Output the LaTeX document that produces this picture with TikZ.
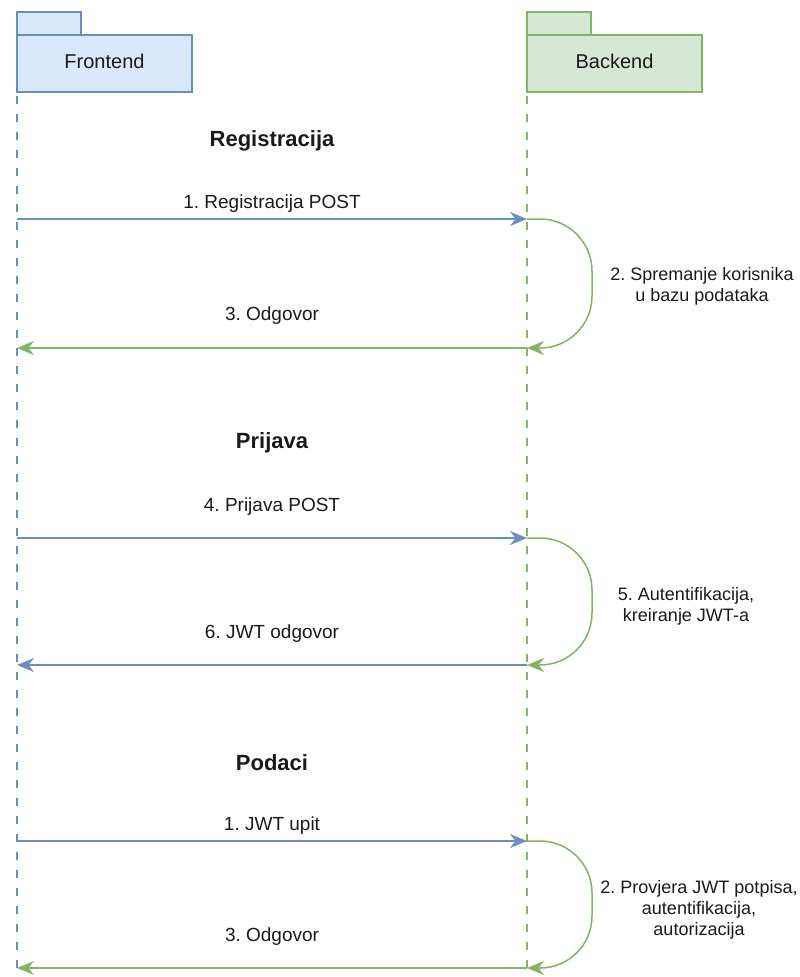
\documentclass[tikz,border=0pt]{standalone}
\usepackage{fontspec}
\setmainfont{Liberation Sans}
\usetikzlibrary{arrows.meta}
\definecolor{bstroke}{HTML}{6C8EBF}
\definecolor{bfill}{HTML}{DAE8FC}
\definecolor{gstroke}{HTML}{82B366}
\definecolor{gfill}{HTML}{D5E8D4}
\definecolor{txt}{HTML}{1A1A1A}
\frenchspacing
\begin{document}
\begin{tikzpicture}[x=1pt,y=-1pt,
  lbl/.style={text=txt,font=\fontsize{18}{21}\selectfont,inner sep=0pt,align=center},
  albl/.style={text=txt,font=\fontsize{19}{22}\selectfont,inner sep=0pt},
  ttl/.style={text=txt,font=\fontsize{22}{26}\selectfont\bfseries,inner sep=0pt},
  pkgname/.style={text=txt,font=\fontsize{20}{24}\selectfont,inner sep=0pt},
  life/.style={line width=2.6pt,dash pattern=on 8pt off 10pt},
  msg/.style={line width=1.5pt,-{Stealth[length=17pt,width=14pt,inset=5.5pt]}},
  loopc/.style={line width=1.5pt,draw=gstroke,rounded corners=52pt,-{Stealth[length=17pt,width=14pt,inset=5.5pt]}}
]
\useasboundingbox (0,0) rectangle (800,977);
% packages
\draw[bstroke,fill=bfill,line width=1.2pt] (17,12) rectangle (81,35);
\draw[bstroke,fill=bfill,line width=1.2pt] (17,35) rectangle (192,92);
\node[pkgname] (fe) at (104.5,61) {Frontend};
\draw[gstroke,fill=gfill,line width=1.2pt] (527,12) rectangle (591,35);
\draw[gstroke,fill=gfill,line width=1.2pt] (527,35) rectangle (702,92);
\node[pkgname] (be) at (614.5,61) {Backend};
% lifelines
\coordinate (fetop) at (17,96);
\coordinate (febot) at (17,977);
\coordinate (betop) at (527,96);
\coordinate (bebot) at (527,977);
\draw[life,bstroke] (fetop) -- (febot);
\draw[life,gstroke] (betop) -- (bebot);
% coordinates on lifelines
\foreach \n/\y in {a/219,b/348,c/538,d/665,e/841,f/968}{
  \coordinate (F\n) at (17,\y);
  \coordinate (B\n) at (527,\y);
}
% titles
\node[ttl] (t1) at (272,141) {Registracija};
\node[ttl] (t2) at (272,443) {Prijava};
\node[ttl] (t3) at (272,763) {Podaci};
% Registracija
\draw[msg,draw=bstroke,bstroke] (Fa) -- (Ba);
\node[albl] (l1) at (272,204) {1. Registracija POST};
\draw[loopc] (Ba) -- (592,219) -- (592,348) -- (Bb);
\node[lbl] (l2) at (702,286) {2. Spremanje korisnika\\u bazu podataka};
\draw[msg,draw=gstroke,gstroke] (Bb) -- (Fb);
\node[albl] (l3) at (272,316) {3. Odgovor};
% Prijava
\draw[msg,draw=bstroke,bstroke] (Fc) -- (Bc);
\node[albl] (l4) at (272,507) {4. Prijava POST};
\draw[loopc] (Bc) -- (592,538) -- (592,665) -- (Bd);
\node[lbl] (l5) at (686,606) {5. Autentifikacija,\\kreiranje JWT-a};
\draw[msg,draw=bstroke,bstroke] (Bd) -- (Fd);
\node[albl] (l6) at (272,634) {6. JWT odgovor};
% Podaci
\draw[msg,draw=bstroke,bstroke] (Fe) -- (Be);
\node[albl] (l7) at (272,826) {1. JWT upit};
\draw[loopc] (Be) -- (592,841) -- (592,968) -- (Bf);
\node[lbl] (l8) at (699,910) {2. Provjera JWT potpisa,\\autentifikacija,\\autorizacija};
\draw[msg,draw=gstroke,gstroke] (Bf) -- (Ff);
\node[albl] (l9) at (272,937) {3. Odgovor};
\end{tikzpicture}
\end{document}
